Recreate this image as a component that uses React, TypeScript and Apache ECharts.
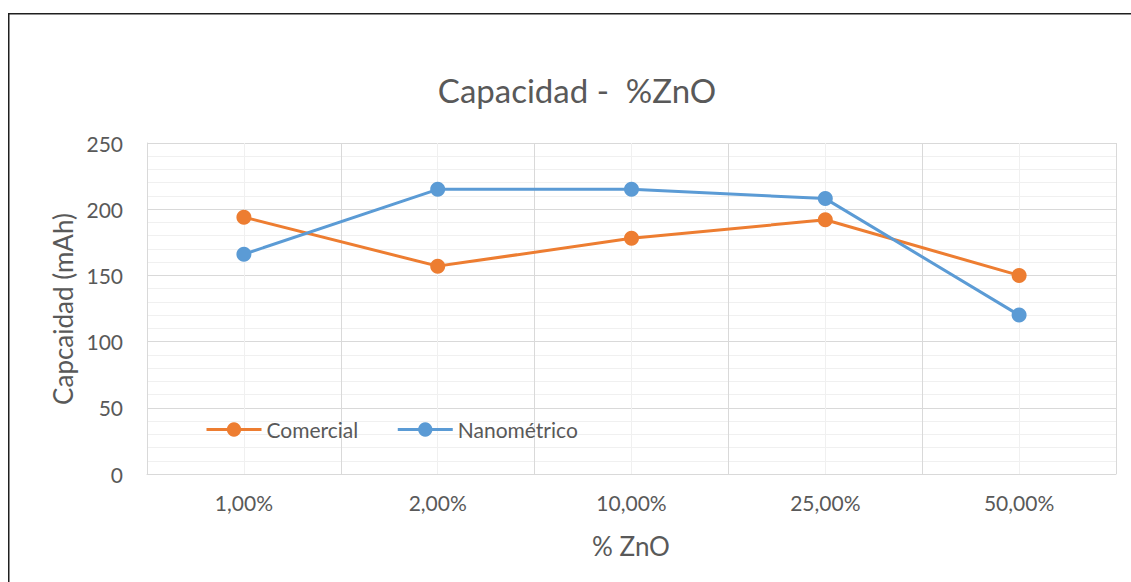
import React, { useEffect, useRef } from "react";
import * as echarts from "echarts";

const categories = ["1,00%", "2,00%", "10,00%", "25,00%", "50,00%"];
const comercial = [194, 157, 178, 192, 150];
const nanometrico = [166, 215, 215, 208, 120];
const yTicks = { min: 0, max: 250, interval: 50 };

const FONT = "Lato";
const TXT = "#595959";

export default function App() {
  const ref = useRef<HTMLDivElement>(null);
  useEffect(() => {
    if (!ref.current) return;
    document.documentElement.style.overflow = "hidden";
    document.body.style.overflow = "hidden";
    const chart = echarts.init(ref.current, undefined, { renderer: "svg" });
    chart.setOption({
      animation: false,
      backgroundColor: "#ffffff",
      textStyle: { fontFamily: FONT },
      graphic: [
        {
          type: "polyline",
          shape: { points: [[0.75, 600], [0.75, 5.75], [1140, 5.75]] },
          style: { fill: "none", stroke: "#1f1f1f", lineWidth: 1.5 },
          silent: true,
          z: 100,
        },
        {
          type: "text",
          x: 569,
          y: 82,
          style: {
            text: "Capacidad -  %ZnO",
            font: `33px ${FONT}`,
            fill: TXT,
            textAlign: "center",
            textVerticalAlign: "middle",
          },
        },
        {
          type: "text",
          x: 55,
          y: 301,
          rotation: Math.PI / 2,
          style: {
            text: "Capcaidad (mAh)",
            font: `26px ${FONT}`,
            fill: TXT,
            textAlign: "center",
            textVerticalAlign: "middle",
          },
        },
        {
          type: "text",
          x: 623,
          y: 538,
          style: {
            text: "% ZnO",
            font: `26px ${FONT}`,
            fill: TXT,
            textAlign: "center",
            textVerticalAlign: "middle",
          },
        },
      ],
      legend: {
        left: 192,
        top: 406,
        itemWidth: 55,
        itemHeight: 18,
        itemGap: 38,
        lineStyle: { width: 3 },
        textStyle: { fontFamily: FONT, fontSize: 21, color: TXT },
        data: ["Comercial", "Nanométrico"],
      },
      grid: { left: 139, top: 135, right: 15, bottom: 108 },
      xAxis: [
        {
          type: "category",
          data: categories,
          boundaryGap: true,
          axisLine: { show: true, lineStyle: { color: "#d9d9d9", width: 1 } },
          axisTick: { show: false },
          axisLabel: { fontFamily: FONT, fontSize: 21, color: TXT, margin: 18 },
          splitLine: { show: true, lineStyle: { color: "#d9d9d9", width: 1 } },
        },
        {
          type: "value",
          min: 0,
          max: 5,
          interval: 1,
          position: "bottom",
          axisLine: { show: false },
          axisTick: { show: false },
          axisLabel: { show: false },
          splitLine: { show: false },
          minorTick: { show: false, splitNumber: 2 },
          minorSplitLine: { show: true, lineStyle: { color: "#f0f0f0", width: 1 } },
        },
      ],
      yAxis: {
        type: "value",
        min: yTicks.min,
        max: yTicks.max,
        interval: yTicks.interval,
        axisLine: { show: true, lineStyle: { color: "#d9d9d9", width: 1 } },
        axisTick: { show: false },
        axisLabel: { fontFamily: FONT, fontSize: 21, color: TXT, margin: 24 },
        splitLine: { show: true, lineStyle: { color: "#d9d9d9", width: 1 } },
        minorTick: { show: false, splitNumber: 5 },
        minorSplitLine: { show: true, lineStyle: { color: "#f0f0f0", width: 1 } },
      },
      series: [
        {
          name: "Comercial",
          type: "line",
          data: comercial,
          color: "#ED7D31",
          lineStyle: { width: 3, color: "#ED7D31" },
          itemStyle: { color: "#ED7D31" },
          symbol: "circle",
          symbolSize: 15,
          z: 3,
        },
        {
          name: "Nanométrico",
          type: "line",
          data: nanometrico,
          color: "#5B9BD5",
          lineStyle: { width: 3, color: "#5B9BD5" },
          itemStyle: { color: "#5B9BD5" },
          symbol: "circle",
          symbolSize: 15,
          z: 4,
        },
      ],
    });
    return () => chart.dispose();
  }, []);
  return (
    <div
      ref={ref}
      style={{ position: "fixed", left: 8, top: 8, width: 1123, height: 574 }}
    />
  );
}
